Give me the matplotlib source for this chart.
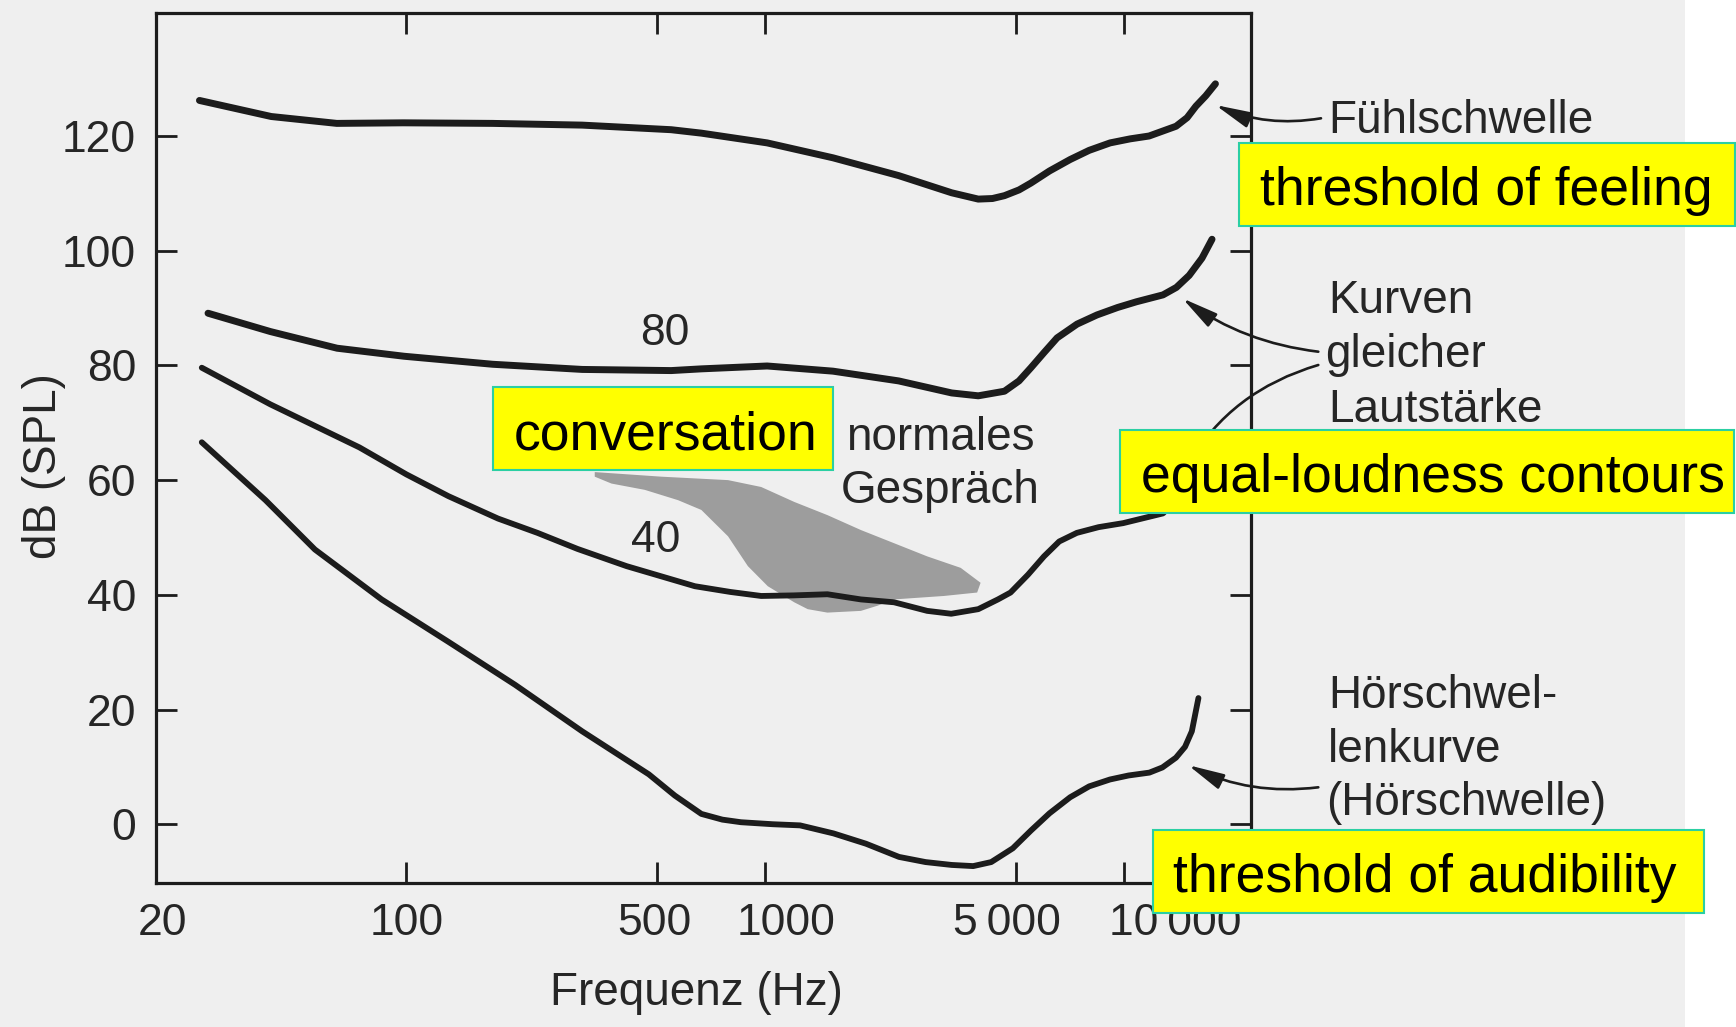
import numpy as np
import matplotlib.pyplot as plt
from matplotlib.patches import Rectangle
from matplotlib.ticker import NullLocator
import matplotlib.transforms as mtransforms

plt.rcParams['font.family'] = ['Liberation Sans', 'DejaVu Sans']

# --- data (frequency in Hz, level in dB SPL) ---
# Fuehlschwelle / threshold of feeling
feel_f = [26.5, 42, 64, 98, 174, 309, 547, 664, 1013, 1545, 2355, 3310, 3926, 4300,
          4645, 5100, 5505, 6200, 7080, 8000, 9150, 10400, 11750, 13970, 15000,
          15870, 16900, 17990]
feel_db = [126.2, 123.4, 122.2, 122.3, 122.2, 121.9, 121.1, 120.5, 118.8, 116.2,
           113.1, 110.1, 109.0, 109.1, 109.6, 110.6, 111.8, 113.9, 115.9, 117.5,
           118.8, 119.5, 120.0, 121.7, 123.2, 125.2, 127.0, 129.1]

# 80 phon contour
p80_f = [28.0, 41.8, 64.1, 98.5, 174, 309, 547, 664, 1013, 1545, 2355, 3310, 3926,
         4645, 5100, 5505, 6000, 6510, 7400, 8410, 9600, 10840, 12850, 14000, 15200,
         16500, 17600]
p80_db = [89.1, 85.9, 83.0, 81.6, 80.2, 79.3, 79.1, 79.4, 79.9, 79.0, 77.3, 75.2,
          74.7, 75.5, 77.3, 79.6, 82.3, 84.8, 87.2, 88.8, 90.1, 91.1, 92.3, 93.6,
          95.7, 98.7, 102.0]

# 40 phon contour
p40_f = [26.9, 41.8, 74, 100, 131, 180, 232, 300, 411, 637, 800, 975, 1200, 1491,
         1848, 2287, 2830, 3300, 3926, 4455, 4830, 5400, 5985, 6600, 7390, 8500,
         9950, 12850, 13970, 15000]
p40_db = [79.6, 73.2, 65.7, 61.0, 57.2, 53.3, 50.8, 48.0, 45.0, 41.5, 40.5, 39.8,
          39.9, 40.1, 39.2, 38.7, 37.2, 36.7, 37.5, 39.2, 40.4, 43.5, 46.7, 49.3,
          50.8, 51.8, 52.5, 54.2, 56.5, 60.0]

# Hoerschwelle / threshold of audibility
hear_f = [26.9, 40.5, 55.6, 85.3, 131, 201, 309, 474, 560, 664, 760, 856, 1050,
          1251, 1550, 1910, 2361, 2800, 3311, 3800, 4266, 4900, 5505, 6200, 7080,
          8000, 9140, 10300, 11775, 12800, 13960, 14800, 15460, 16130]
hear_db = [66.6, 56.5, 47.9, 39.2, 31.8, 24.3, 16.2, 8.7, 5.0, 1.8, 0.8, 0.35, 0.0,
           -0.2, -1.6, -3.4, -5.7, -6.6, -7.1, -7.3, -6.6, -4.2, -1.1, 1.9, 4.7,
           6.6, 7.8, 8.5, 9.0, 9.9, 11.6, 13.5, 16.2, 22.0]

# normal conversation area (outline)
conv_f = [335, 514, 788, 975, 1205, 1491, 1848, 2287, 2830, 3508, 3985, 3898, 3148,
          2287, 2056, 1848, 1491, 1314, 1205, 1017, 895, 788, 664, 572, 462, 373, 335]
conv_db = [61.4, 60.6, 60.0, 58.8, 56.2, 53.9, 51.3, 49.0, 46.7, 44.7, 42.1, 40.4,
           39.8, 39.2, 38.1, 37.2, 36.9, 37.5, 38.7, 41.5, 45.0, 50.2, 54.8, 56.5,
           58.3, 59.4, 60.6]

x_ticks = [20, 100, 500, 1000, 5000, 10000]
x_labels = ['20', '100', '500', '1000', '5\u2009000', '10\u2009000']
y_ticks = [0, 20, 40, 60, 80, 100, 120]

ink = '#1c1c1c'
txt = '#262626'
W, H = 1736, 1027

fig = plt.figure(figsize=(W / 100, H / 100), dpi=100, facecolor='#efefef')
fig.add_artist(Rectangle((1685 / W, 0), 1 - 1685 / W, 1, transform=fig.transFigure,
                         facecolor='white', edgecolor='none', zorder=-5))

ax = fig.add_axes([0.08963, 0.13992, 0.63099, 0.84771])
ax.set_facecolor('none')
ax.set_xscale('log')
ax.set_xlim(20, 22600)
ax.set_ylim(-10.3, 141.5)

line_kw = dict(color=ink, solid_capstyle='round', solid_joinstyle='round', zorder=3)
ax.fill(conv_f, conv_db, color='#9d9d9d', lw=0, zorder=1)
ax.plot(feel_f, feel_db, lw=5.0, **line_kw)
ax.plot(p80_f, p80_db, lw=5.0, **line_kw)
ax.plot(p40_f, p40_db, lw=4.2, **line_kw)
ax.plot(hear_f, hear_db, lw=4.2, **line_kw)

ax.xaxis.set_minor_locator(NullLocator())
ax.set_xticks(x_ticks)
ax.set_xticklabels(x_labels)
ax.set_yticks(y_ticks)
ax.tick_params(axis='both', which='major', direction='in', length=15, width=2,
               top=True, right=True, labelsize=32, pad=14, color=ink, labelcolor=txt)
for s in ax.spines.values():
    s.set_linewidth(2.3)
    s.set_color(ink)

# the printed tick labels sit a little off their ticks
shifts = [5, 0, -2, 15, -6.5, 37]
for lab, dx in zip(ax.get_xticklabels(), shifts):
    lab.set_transform(lab.get_transform() +
                      mtransforms.ScaledTranslation(dx / 72, 0, fig.dpi_scale_trans))

ax.set_xlabel('Frequenz (Hz)', fontsize=33, color=txt)
ax.xaxis.set_label_coords(0.494, -0.1007)
ax.set_ylabel('dB (SPL)', fontsize=33, color=txt)
ax.yaxis.set_label_coords(-0.0818, 0.4787)

ax.text(526, 83.6, '80', fontsize=32, color=txt, ha='center', va='baseline')
ax.text(496, 47.5, '40', fontsize=32, color=txt, ha='center', va='baseline')
ax.text(3070, 65.2, 'normales', fontsize=33, color=txt, ha='center', va='baseline')
ax.text(3070, 56.0, 'Gespräch', fontsize=33, color=txt, ha='center', va='baseline')

# right-hand German labels
side = [('Fühlschwelle', 1328, 133.3), ('Kurven', 1328, 313.3),
        ('gleicher', 1325, 366.7), ('Lautstärke', 1328, 421.7),
        ('Hörschwel-', 1328, 708.3), ('lenkurve', 1328, 761.7),
        ('(Hörschwelle)', 1326, 815)]
for s, x, y in side:
    fig.text(x / W, 1 - y / H, s, fontsize=33, color=txt, ha='left', va='baseline')

arrow = dict(arrowstyle='-|>,head_length=1.0,head_width=0.22', mutation_scale=22,
             color=ink, lw=1.9, shrinkA=0, shrinkB=0)
arrows = [((17990, 125.4), (1321, 118.3), -0.15),
          ((14550, 91.7), (1318.3, 351.7), -0.13),
          ((14800, 61.8), (1318.3, 365), 0.2),
          ((15100, 10.3), (1318.3, 787.3), -0.15)]
for tip, tail, rad in arrows:
    ax.annotate('', xy=tip, xycoords='data',
                xytext=(tail[0] / W, 1 - tail[1] / H), textcoords='figure fraction',
                arrowprops=dict(arrow, connectionstyle='arc3,rad=%s' % rad),
                annotation_clip=False, zorder=4)

# yellow English captions
boxes = [('threshold of feeling', 1239, 142.7, 1735),
         ('conversation', 493.3, 386.7, 832.7),
         ('equal-loudness contours', 1120.4, 429.6, 1734),
         ('threshold of audibility', 1152.7, 830, 1704)]
for s, x0, y0, x1 in boxes:
    fig.add_artist(Rectangle((x0 / W, 1 - (y0 + 83.3) / H), (x1 - x0) / W, 83.3 / H,
                             transform=fig.transFigure, facecolor='#ffff00',
                             edgecolor='#2bcfa3', lw=1.5, zorder=10))
    fig.text((x0 + 20.5) / W, 1 - (y0 + 62.3) / H, s, fontsize=38.5, color='black',
             ha='left', va='baseline', zorder=11)

fig.savefig('out.png', dpi=100, facecolor=fig.get_facecolor())
